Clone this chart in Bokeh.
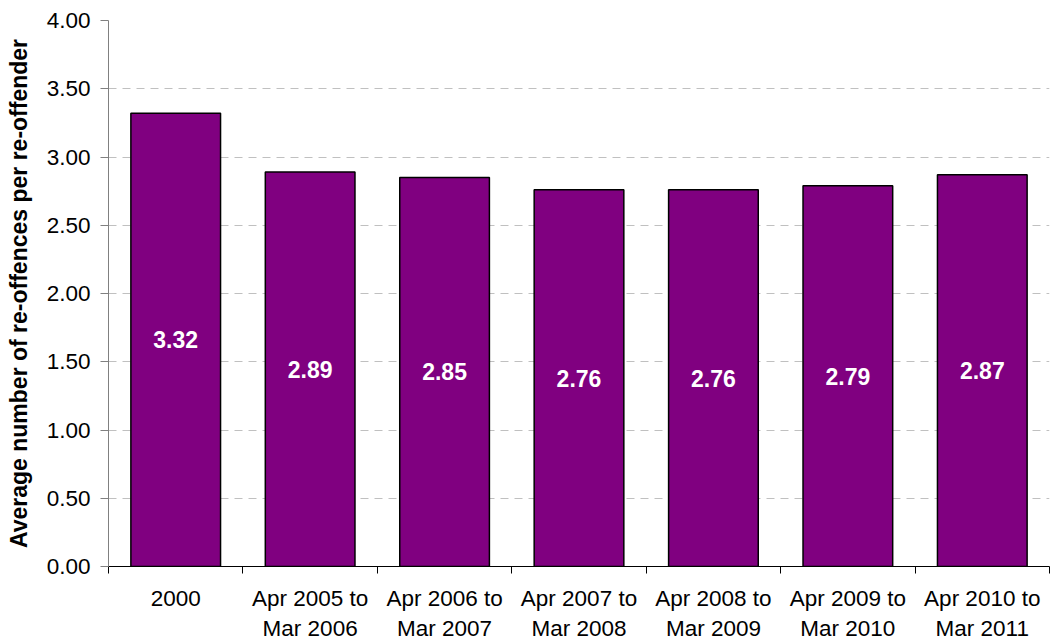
from bokeh.plotting import figure
from bokeh.models import ColumnDataSource, Range1d, FixedTicker, NumeralTickFormatter
from bokeh.core.properties import value
from bokeh.embed import file_html
from bokeh.resources import INLINE

categories = ["2000", "Apr 2005 to\nMar 2006", "Apr 2006 to\nMar 2007", "Apr 2007 to\nMar 2008",
              "Apr 2008 to\nMar 2009", "Apr 2009 to\nMar 2010", "Apr 2010 to\nMar 2011"]
values = [3.32, 2.89, 2.85, 2.76, 2.76, 2.79, 2.87]
y_ticks = [0.0, 0.5, 1.0, 1.5, 2.0, 2.5, 3.0, 3.5, 4.0]

n = len(categories)
xs = [i + 0.5 for i in range(n)]
src = ColumnDataSource(dict(
    x=xs, top=values, mid=[v / 2 for v in values],
    label=["%.2f" % v for v in values],
))

FONT = "Liberation Sans"

p = figure(width=1050, height=643, output_backend="svg", toolbar_location=None,
           x_range=Range1d(0, n), y_range=Range1d(0, 4))
p.min_border_left = 108
p.min_border_right = 1
p.min_border_top = 20
p.min_border_bottom = 0
p.outline_line_color = None
p.background_fill_color = "white"
p.border_fill_color = "white"

p.vbar(x="x", top="top", width=0.667, source=src, fill_color="#800080",
       line_color="black", line_width=1.5)
p.text(x="x", y="mid", text="label", source=src, text_align="center",
       text_baseline="middle", text_color="white", text_font=value(FONT),
       text_font_style="bold", text_font_size="23px")

# grid
p.xgrid.grid_line_color = None
p.ygrid.ticker = FixedTicker(ticks=y_ticks)
p.ygrid.grid_line_color = "#c0c0c0"
p.ygrid.grid_line_dash = "8 6"
p.ygrid.grid_line_width = 1

# y axis
ya = p.yaxis[0]
ya.ticker = FixedTicker(ticks=y_ticks)
ya.formatter = NumeralTickFormatter(format="0.00")
ya.axis_line_color = "#808080"
ya.major_tick_line_color = "#808080"
ya.major_tick_out = 8
ya.major_tick_in = 0
ya.minor_tick_line_color = None
ya.major_label_text_font = FONT
ya.major_label_text_font_size = "22.5px"
ya.major_label_text_color = "black"
ya.major_label_standoff = 10
ya.axis_label = "Average number of re-offences per re-offender"
ya.axis_label_text_font = FONT
ya.axis_label_text_font_size = "23px"
ya.axis_label_text_font_style = "bold"
ya.axis_label_text_color = "black"
ya.axis_label_standoff = 12

# x axis
xa = p.xaxis[0]
xa.ticker = FixedTicker(ticks=xs, minor_ticks=list(range(n + 1)))
xa.major_label_overrides = {x: c for x, c in zip(xs, categories)}
xa.major_tick_line_color = None
xa.minor_tick_line_color = "black"
xa.minor_tick_out = 7
xa.minor_tick_in = 0
xa.axis_line_color = "black"
xa.major_label_text_font = FONT
xa.major_label_text_font_size = "22.5px"
xa.major_label_text_color = "black"
xa.major_label_text_line_height = 1.2
xa.major_label_standoff = 12

open("out.html", "w").write(file_html(p, INLINE))
